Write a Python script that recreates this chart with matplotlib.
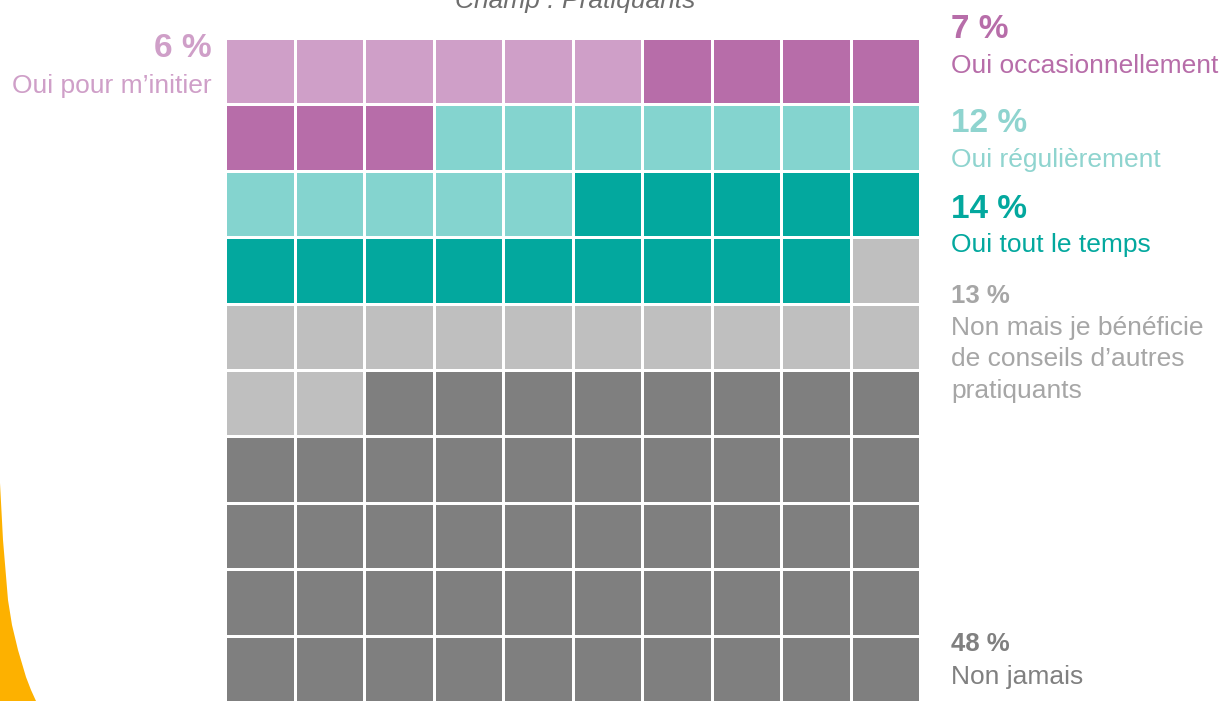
import matplotlib
matplotlib.use("Agg")
import matplotlib.pyplot as plt
from matplotlib.patches import Rectangle, Polygon

plt.rcParams['font.family'] = ['Liberation Sans', 'DejaVu Sans']

# ---- data ----
categories = ["Oui pour m\u2019initier", "Oui occasionnellement", "Oui r\u00e9guli\u00e8rement",
              "Oui tout le temps", "Non mais je b\u00e9n\u00e9ficie\nde conseils d\u2019autres\npratiquants",
              "Non jamais"]
values = [6, 7, 12, 14, 13, 48]
pct_labels = ["6 %", "7 %", "12 %", "14 %", "13 %", "48 %"]
colors = ["#CF9FC8", "#B76DA9", "#84D4CF", "#03A89E", "#BFBFBF", "#7F7F7F"]
text_colors = ["#CF9FC8", "#B76DA9", "#8FD4CF", "#03A89E", "#A6A6A6", "#808080"]
title = "Champ : Pratiquants"

W, H = 1222, 701
fig = plt.figure(figsize=(W / 100, H / 100), dpi=100)

# overlay axes in pixel coordinates for text / decoration
ov = fig.add_axes([0, 0, 1, 1])
ov.set_xlim(0, W)
ov.set_ylim(H, 0)
ov.axis("off")

# decorative orange shape at bottom-left
ov.add_patch(Polygon([(0, 483), (3, 540), (8, 600), (12, 625), (18, 650),
                      (26, 677), (31, 690), (36, 701), (0, 701)],
                     closed=True, facecolor="#FDB100", edgecolor="none"))

# waffle grid axes
ncols, nrows = 10, 10
gx0, gx1 = 227, 922
gy0, gy1 = 40, 704
ax = fig.add_axes([gx0 / W, 1 - gy1 / H, (gx1 - gx0) / W, (gy1 - gy0) / H])
ax.set_xlim(0, ncols)
ax.set_ylim(nrows, 0)
ax.axis("off")
gapx = 3 / ((gx1 - gx0) / ncols)
gapy = 3 / ((gy1 - gy0) / nrows)
idx = 0
for cat_i, v in enumerate(values):
    for _ in range(v):
        r, c = divmod(idx, ncols)
        ax.add_patch(Rectangle((c, r), 1 - gapx, 1 - gapy,
                               facecolor=colors[cat_i], edgecolor="none",
                               clip_on=True))
        idx += 1

# title
ov.text(575, 8, title, fontsize=19, style="italic", color="#6E6E6E",
        ha="center", va="baseline")

# left label (6 %)
ov.text(212, 57, pct_labels[0], fontsize=24, fontweight="bold", color=text_colors[0],
        ha="right", va="baseline")
ov.text(212, 93, categories[0], fontsize=19, color=text_colors[0],
        ha="right", va="baseline")

# right labels
rx = 951
right = [
    (1, 38, 73, 24),
    (2, 132, 167, 24),
    (3, 218, 252, 24),
    (4, 303, 335, 18.5),
    (5, 651, 684, 18.5),
]
for i, yp, yl, fs in right:
    ov.text(rx, yp, pct_labels[i], fontsize=fs, fontweight="bold",
            color=text_colors[i], ha="left", va="baseline")
    for k, line in enumerate(categories[i].split("\n")):
        ov.text(rx, yl + k * 31.5, line, fontsize=19, color=text_colors[i],
                ha="left", va="baseline")

fig.savefig("out.png", dpi=100)
